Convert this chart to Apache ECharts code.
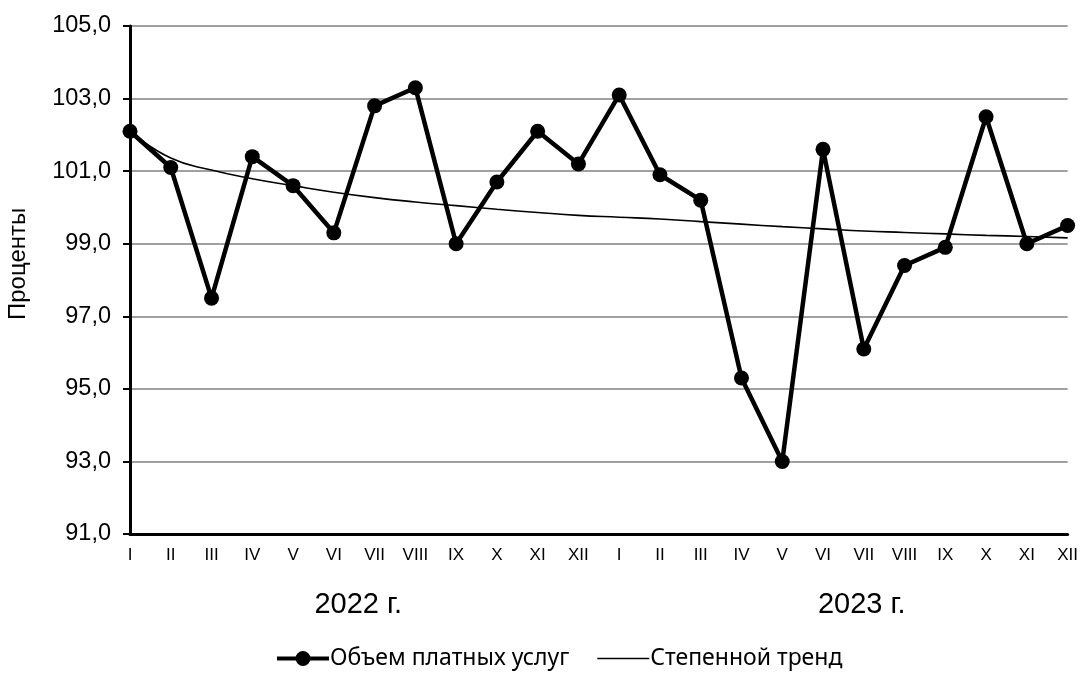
<!DOCTYPE html>
<html>
<head>
<meta charset="utf-8">
<script src="https://cdn.jsdelivr.net/npm/echarts@6/dist/echarts.min.js"></script>
<style>
html,body{margin:0;padding:0;background:#fff;}
#chart{width:1081px;height:675px;}
</style>
</head>
<body>
<div id="chart"></div>
<script>
const months = ['I','II','III','IV','V','VI','VII','VIII','IX','X','XI','XII',
                'I','II','III','IV','V','VI','VII','VIII','IX','X','XI','XII'];
const years = ['2022 г.', '2023 г.'];
const servicesVolume = [102.1, 101.1, 97.5, 101.4, 100.6, 99.3, 102.8, 103.3, 99.0, 100.7, 102.1, 101.2,
                        103.1, 100.9, 100.2, 95.3, 93.0, 101.6, 96.1, 98.4, 98.9, 102.5, 99.0, 99.5];
const powerTrend = [102.09, 101.36, 101.03, 100.79, 100.60, 100.42, 100.27, 100.15, 100.05, 99.95, 99.86, 99.78,
                    99.73, 99.68, 99.61, 99.54, 99.47, 99.41, 99.35, 99.31, 99.27, 99.23, 99.20, 99.16];
const seriesNames = ['Объем платных услуг', 'Степенной тренд'];
const yAxisName = 'Проценты';

const chart = echarts.init(document.getElementById('chart'));
const baseFont = "'Liberation Sans'";
chart.setOption({
  animation: false,
  backgroundColor: '#fff',
  grid: { left: 130, right: 12, top: 26, bottom: 141, containLabel: false },
  xAxis: {
    type: 'category',
    data: months,
    boundaryGap: false,
    axisLine: { lineStyle: { color: '#000', width: 3 } },
    axisTick: { show: false },
    axisLabel: { color: '#000', fontFamily: baseFont, fontSize: 17, margin: 13, interval: 0 },
    splitLine: { show: false }
  },
  yAxis: {
    type: 'value',
    min: 91, max: 105, interval: 2,
    axisLine: { show: true, lineStyle: { color: '#000', width: 3 } },
    axisTick: { show: true, length: 7, lineStyle: { color: '#000', width: 2 } },
    axisLabel: { color: '#000', fontFamily: baseFont, fontSize: 23.5, margin: 19,
      formatter: v => v.toFixed(1).replace('.', ',') },
    splitLine: { lineStyle: { color: '#a0a0a0', width: 2 } }
  },
  legend: {
    bottom: 0,
    left: 272,
    itemGap: 28,
    itemWidth: 52,
    itemHeight: 15,
    textStyle: { color: '#000', fontFamily: "'Noto Sans'", fontSize: 23, padding: [0,0,0,-4] },
    data: [
      { name: seriesNames[0], icon: 'path://M0,5.5h52v4H0z M18.5,7.5a7.5,7.5 0 1,1 15,0a7.5,7.5 0 1,1 -15,0z' },
      { name: seriesNames[1], icon: 'path://M0,0M0,15M0,6.7h52v1.6H0z' }
    ]
  },
  series: [
    {
      name: seriesNames[0],
      type: 'line',
      data: servicesVolume,
      symbol: 'circle',
      symbolSize: 15,
      itemStyle: { color: '#000' },
      lineStyle: { color: '#000', width: 4.5 },
      z: 3
    },
    {
      name: seriesNames[1],
      type: 'line',
      data: powerTrend,
      symbol: 'none',
      smooth: true,
      itemStyle: { color: '#000' },
      lineStyle: { color: '#000', width: 1.6 },
      z: 2
    }
  ]
});

const px = i => chart.convertToPixel({ xAxisIndex: 0 }, i);
const p2022 = px(5) + 0.6 * (px(6) - px(5));
const p2023 = px(17) + 0.95 * (px(18) - px(17));
chart.setOption({
  graphic: [
    { type: 'text', x: p2022, y: 605,
      style: { text: years[0], fill: '#000', font: "29px 'Liberation Sans'", align: 'center', verticalAlign: 'middle' } },
    { type: 'text', x: p2023, y: 605,
      style: { text: years[1], fill: '#000', font: "29px 'Liberation Sans'", align: 'center', verticalAlign: 'middle' } },
    { type: 'text', x: 6, y: 320, rotation: Math.PI / 2,
      style: { text: yAxisName, fill: '#000', font: "24px 'Liberation Sans'" } }
  ]
});
</script>
</body>
</html>
